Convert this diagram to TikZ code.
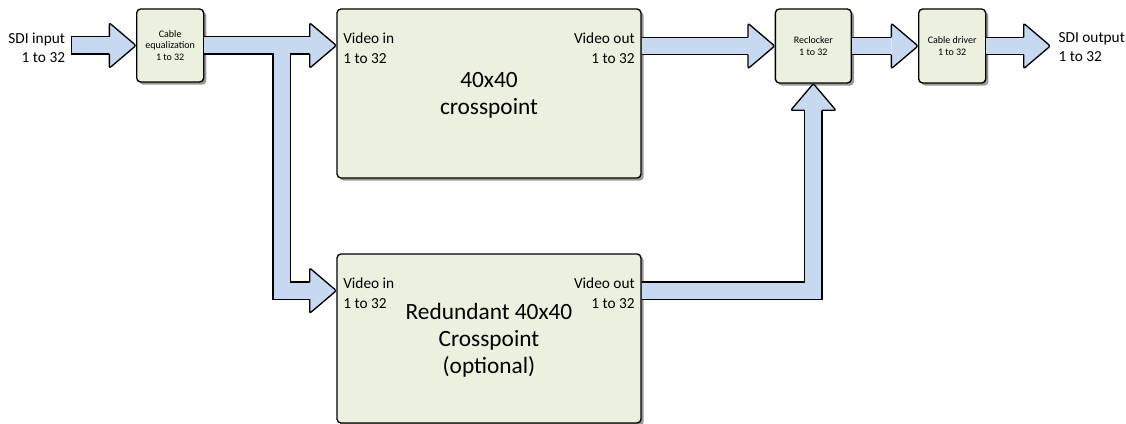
\documentclass[tikz,border=0pt]{standalone}
\usepackage{fontspec}
\setmainfont{Carlito}
\usetikzlibrary{positioning,shadows}

\definecolor{boxgreen}{HTML}{EBF1DE}
\definecolor{pipeblue}{HTML}{C6D9F1}

\tikzset{
  arrowhead/.pic={
    \filldraw[fill=pipeblue, line width=1pt, rounded corners=1.5pt]
      (-20pt,6.5pt) -- (-20pt,17pt) -- (0,0) -- (-20pt,-17pt) -- (-20pt,-6.5pt);
  }
}

\begin{document}
\begin{tikzpicture}[x=0.75pt, y=0.75pt,
	box/.style = { draw=black, line width=1pt, fill=boxgreen,
			rounded corners=3pt, inner sep=0pt, align=center,
			drop shadow={shadow xshift=2pt, shadow yshift=-2pt,
				fill=black!40, opacity=1} },
	bigbox/.style = { box, minimum width=228pt, minimum height=126.75pt,
			text depth=0pt, font=\fontsize{17.5}{20}\selectfont },
	smallbox/.style = { box, text depth=0pt,
			font=\fontsize{7.5}{8.8}\selectfont },
	lbl/.style = { inner sep=0pt, font=\fontsize{11.5}{14.5}\selectfont },
	pipe/.style = { draw=black, line width=1pt, double=pipeblue,
			double distance=12pt }]

  \useasboundingbox (0,0) rectangle (1126,-424);

  % crosspoints
  \node[name=main, bigbox] at (489,-93.5) {40x40\\crosspoint};
  \node[name=red, bigbox, below=56pt of main]
	{Redundant 40x40\\Crosspoint\\(optional)};
  \node[name=mainin, lbl, align=left, anchor=north west]
	at ([xshift=5pt,yshift=-18.5pt]main.north west) {Video in\\1 to 32};
  \node[name=mainout, lbl, align=right, anchor=north east]
	at ([xshift=-5pt,yshift=-18.5pt]main.north east) {Video out\\1 to 32};
  \node[name=redinlbl, lbl, align=left, anchor=north west]
	at ([xshift=5pt,yshift=-18.5pt]red.north west) {Video in\\1 to 32};
  \node[name=redoutlbl, lbl, align=right, anchor=north east]
	at ([xshift=-5pt,yshift=-18.5pt]red.north east) {Video out\\1 to 32};

  % input and output stages
  \node[name=eq, smallbox, minimum width=50.25pt, minimum height=54.75pt,
	below left=0pt and 99pt of main.north west]
	{Cable\\equalization\\1 to 32};
  \node[name=rec, smallbox, minimum width=57pt, minimum height=55.5pt,
	below right=0pt and 99.75pt of main.north east]
	{Reclocker\\1 to 32};
  \node[name=drv, smallbox, minimum width=50.25pt, minimum height=55.5pt,
	right=49.5pt of rec] {Cable driver\\1 to 32};

  \coordinate (intail) at ([xshift=-49pt]eq.west);
  \coordinate (outtip) at ([xshift=48pt]drv.east);
  \coordinate (split) at ([xshift=58pt]eq.east);
  \coordinate (redin) at ([yshift=-28pt]red.north west);
  \coordinate (redout) at ([yshift=-28pt]red.north east);

  \node[name=sdiin, lbl, align=right, left=4pt of intail, yshift=-1.5pt]
	{SDI input\\1 to 32};
  \node[name=sdiout, lbl, align=left, right=6pt of outtip, yshift=-1pt]
	{SDI output\\1 to 32};

  % pipes
  \draw[pipe, line cap=rect] ([xshift=7pt]intail) -- ([xshift=-20pt]eq.west);
  \pic at (eq.west) {arrowhead};

  \draw[pipe] (eq.east) -- ([xshift=-20pt]eq.east -| main.west)
	(split) -- (split |- redin) -- ([xshift=-20pt]redin);
  \pic at (eq.east -| main.west) {arrowhead};
  \pic at (redin) {arrowhead};

  \draw[pipe] (main.east |- rec.west) -- ([xshift=-20pt]rec.west);
  \pic at (rec.west) {arrowhead};

  \draw[pipe] (redout) -- (redout -| rec.south) -- ([yshift=-20pt]rec.south);
  \pic[rotate=90] at (rec.south) {arrowhead};

  \draw[pipe] (rec.east) -- ([xshift=-20pt]drv.west);
  \pic at (drv.west) {arrowhead};

  \draw[pipe] (drv.east) -- ([xshift=-20pt]outtip);
  \pic at (outtip) {arrowhead};
\end{tikzpicture}
\end{document}
